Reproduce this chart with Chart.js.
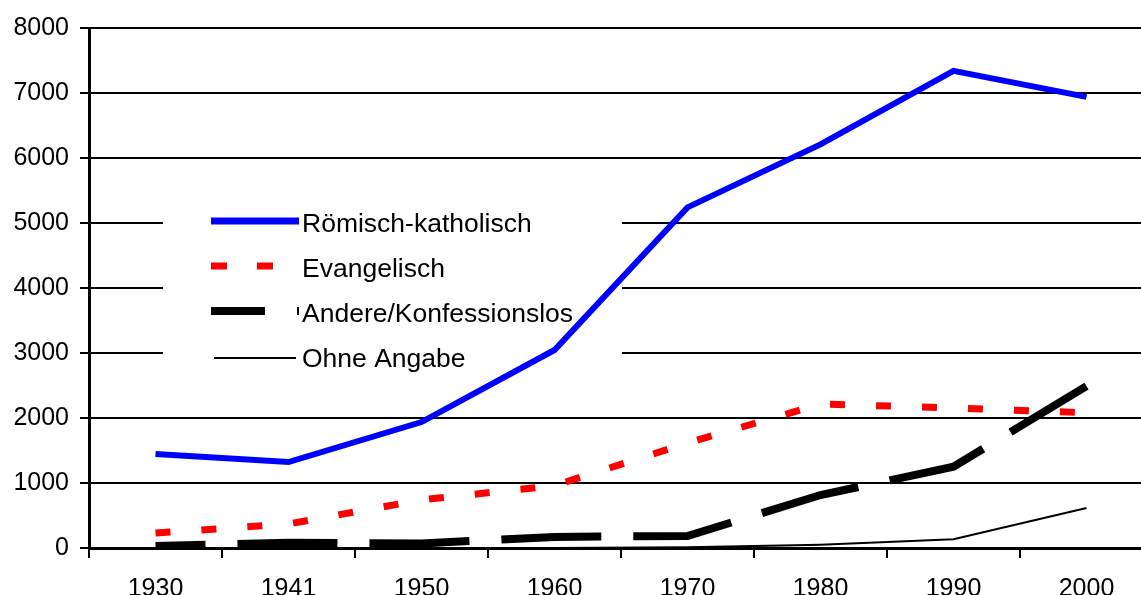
<!DOCTYPE html>
<html>
<head>
<meta charset="utf-8">
<script src="https://cdn.jsdelivr.net/npm/chart.js@4"></script>
<style>
  html, body { margin: 0; padding: 0; overflow: hidden; background: #fff; }
  #wrap { width: 1160px; height: 595px; }
</style>
</head>
<body>
<div id="wrap"><canvas id="chart" width="1160" height="595"></canvas></div>
<script>
// values
const years = ['1930', '1941', '1950', '1960', '1970', '1980', '1990', '2000'];
const roemischKatholisch = [1446, 1323, 1938, 3046, 5240, 6210, 7340, 6940];
const evangelisch = [230, 370, 740, 960, 1615, 2215, 2155, 2080];
const andere = [30, 80, 70, 170, 185, 815, 1250, 2490];
const ohneAngabe = [0, 0, 0, 0, 10, 50, 135, 615];
const seriesNames = ['Römisch-katholisch', 'Evangelisch', 'Andere/Konfessionslos', 'Ohne Angabe'];

const FONT = '"Liberation Sans", Arial, sans-serif';

// legend sits inside the plot, behind the lines, on a white patch
const insideLegend = {
  id: 'insideLegend',
  beforeDatasetsDraw(chart) {
    const ctx = chart.ctx;
    ctx.save();
    ctx.fillStyle = '#fff';
    ctx.fillRect(163, 196, 459, 182);

    ctx.lineCap = 'butt';
    // blue solid
    ctx.strokeStyle = '#0000ff';
    ctx.lineWidth = 7;
    ctx.beginPath(); ctx.moveTo(211, 221); ctx.lineTo(299, 221); ctx.stroke();
    // red dashed
    ctx.strokeStyle = '#ff0000';
    ctx.setLineDash([16, 30]);
    ctx.beginPath(); ctx.moveTo(211, 266); ctx.lineTo(274, 266); ctx.stroke();
    // black long dashes
    ctx.strokeStyle = '#000';
    ctx.lineWidth = 8;
    ctx.setLineDash([54, 32]);
    ctx.beginPath(); ctx.moveTo(211, 311); ctx.lineTo(299, 311); ctx.stroke();
    // thin black
    ctx.setLineDash([]);
    ctx.lineWidth = 2;
    ctx.beginPath(); ctx.moveTo(214, 358); ctx.lineTo(296, 358); ctx.stroke();

    ctx.fillStyle = '#000';
    ctx.font = '26.5px ' + FONT;
    ctx.textBaseline = 'alphabetic';
    ctx.textAlign = 'left';
    const baselines = [232, 277, 322, 367];
    seriesNames.forEach((name, i) => ctx.fillText(name, 302, baselines[i]));
    ctx.restore();
  }
};

new Chart(document.getElementById('chart'), {
  type: 'line',
  data: {
    labels: years,
    datasets: [
      { label: seriesNames[0], data: roemischKatholisch, borderColor: '#0000ff', borderWidth: 6, borderJoinStyle: 'miter' },
      { label: seriesNames[1], data: evangelisch, borderColor: '#ff0000', borderWidth: 7, borderDash: [15, 31] },
      { label: seriesNames[2], data: andere, borderColor: '#000', borderWidth: 8, borderDash: [100, 32], borderDashOffset: 50 },
      { label: seriesNames[3], data: ohneAngabe, borderColor: '#000', borderWidth: 2 }
    ]
  },
  options: {
    responsive: false,
    animation: false,
    events: [],
    elements: {
      point: { radius: 0 },
      line: { tension: 0, fill: false, borderCapStyle: 'butt' }
    },
    layout: { padding: { top: 28, right: 7, left: 0, bottom: 0 } },
    plugins: { legend: { display: false }, tooltip: { enabled: false } },
    scales: {
      x: {
        offset: true,
        grid: { display: true, drawOnChartArea: false, drawTicks: true, tickLength: 10, offset: true, color: '#000', lineWidth: 2 },
        border: { display: true, color: '#000', width: 3 },
        ticks: { color: '#000', font: { family: FONT, size: 25 }, padding: 16, maxRotation: 0 },
        afterFit(scale) { scale.height = 47; }
      },
      y: {
        min: 0,
        max: 8000,
        ticks: { stepSize: 1000, color: '#000', font: { family: FONT, size: 25 }, padding: 11, callback: v => String(v) },
        grid: { color: '#000', lineWidth: 2, drawTicks: true, tickLength: 9 },
        border: { display: true, color: '#000', width: 3 },
        afterFit(scale) { scale.width = 89; }
      }
    }
  },
  plugins: [insideLegend]
});
</script>
</body>
</html>
